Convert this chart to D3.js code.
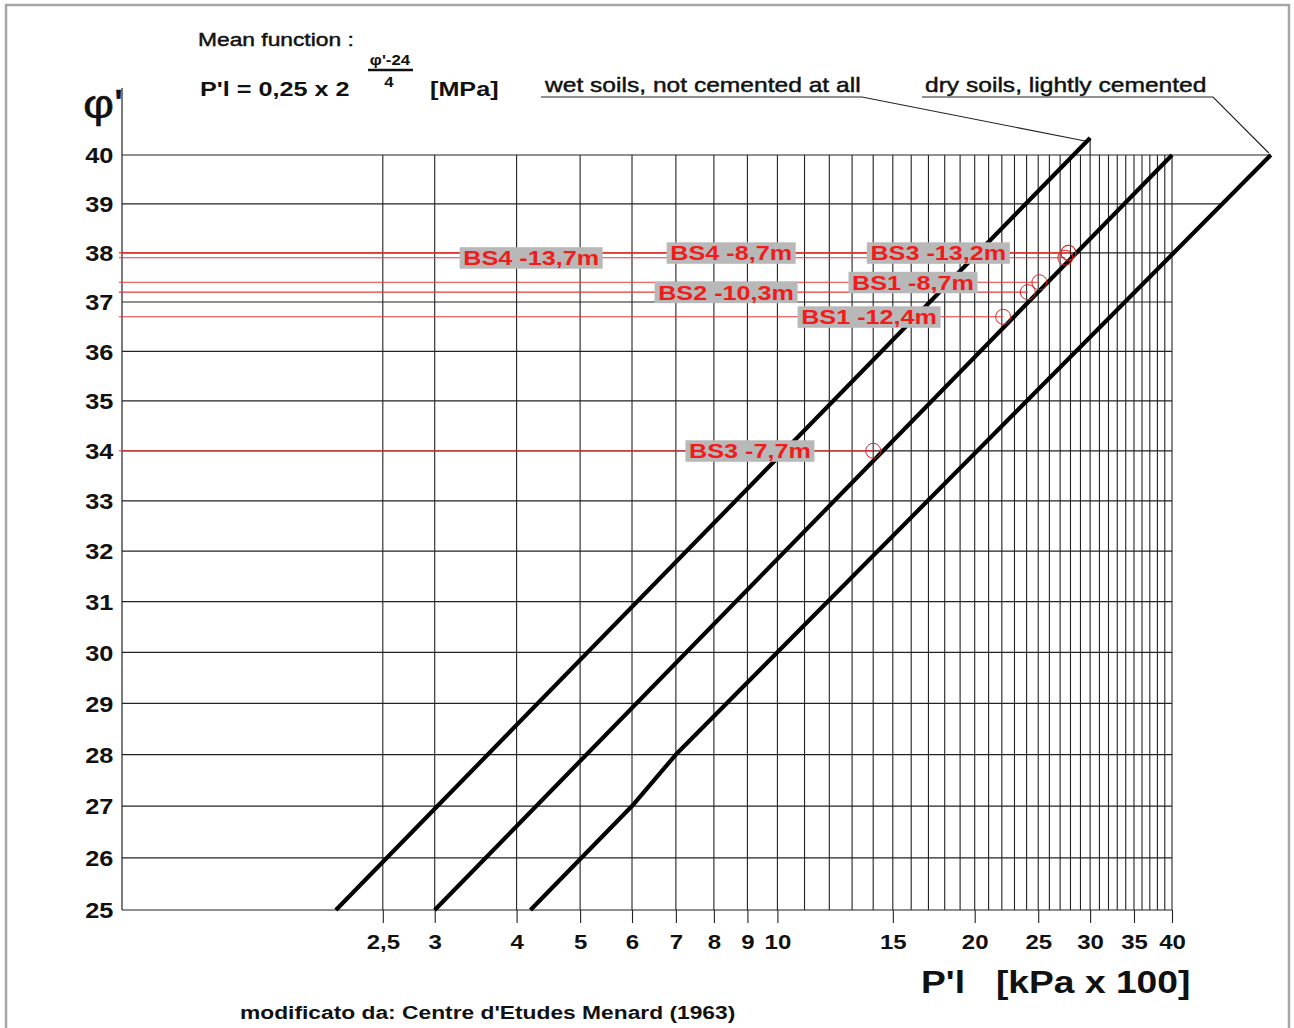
<!DOCTYPE html>
<html>
<head>
<meta charset="utf-8">
<script src="https://cdn.jsdelivr.net/npm/d3@7"></script>
<style>
body { margin: 0; background: #fff; }
svg text { font-family: "Liberation Sans", Arial, sans-serif; }
</style>
</head>
<body>
<div id="chart"></div>
<script>
// Menard chart: friction angle vs limit pressure (log scale)

// Axis values
var yTicks = [25, 26, 27, 28, 29, 30, 31, 32, 33, 34, 35, 36, 37, 38, 39, 40];
var xTickValues = [2.5, 3, 4, 5, 6, 7, 8, 9, 10, 15, 20, 25, 30, 35, 40];
var xTickText = ["2,5", "3", "4", "5", "6", "7", "8", "9", "10", "15", "20", "25", "30", "35", "40"];
var xGridValues = [2.5, 3, 4, 5, 6, 7, 8, 9, 10, 11, 12, 13, 14, 15, 16, 17, 18, 19, 20,
  21, 22, 23, 24, 25, 26, 27, 28, 29, 30, 31, 32, 33, 34, 35, 36, 37, 38, 39, 40];

// Reference lines (P'l in kPa x 100, phi' in degrees)
var wetP = [2.12, 30],
  wetPhi = [25, 40.35];
var meanP = [3.0, 40],
  meanPhi = [25, 40];
var dryP = [4.2, 6.0, 7.0, 56.6],
  dryPhi = [25, 27, 28, 40];

// Test results
var sampleNames = ["BS4 -13,7m", "BS4 -8,7m", "BS3 -13,2m", "BS1 -8,7m", "BS2 -10,3m", "BS1 -12,4m", "BS3 -7,7m"];
var samplePhi = [37.9, 38.0, 38.0, 37.4, 37.2, 36.7, 34.0];
var sampleP = [27.5, 27.8, 27.8, 25.1, 24.1, 22.1, 14.0];
var labelP = [4.21, 8.5, 17.6, 16.1, 8.35, 13.8, 9.08];

var width = 1294,
  height = 1028,
  SX = 1.2; // horizontal stretch of lettering

var x = d3.scaleLog().domain([1, 40]).range([122, 1172]);
var y = d3.scalePow().exponent(0.85).domain([25, 40]).range([910, 155]);

var svg = d3.select("#chart")
  .append("svg")
  .attr("width", width)
  .attr("height", height);

svg.append("rect")
  .attr("x", 6).attr("y", 5)
  .attr("width", 1283).attr("height", 1030)
  .attr("fill", "#fff")
  .attr("stroke", "#a6a6a6")
  .attr("stroke-width", 2.5);

function label(g, px, py, str, size, weight, anchor) {
  var t = g.append("text")
    .attr("transform", "translate(" + px + "," + py + ") scale(" + SX + ",1)")
    .attr("font-size", size)
    .attr("font-weight", weight || "normal")
    .attr("text-anchor", anchor || "start")
    .attr("fill", "#111")
    .style("white-space", "pre")
    .text(str);
  // regular lettering in the original is a bit heavier
  if (!weight || weight === "normal") t.attr("stroke", "#111").attr("stroke-width", 0.45);
  return t;
}

// x pixel where a polyline crosses a given phi
function xOnLine(P, Phi, phi) {
  for (var i = 0; i < P.length - 1; i++) {
    if (phi >= Phi[i] && phi <= Phi[i + 1]) {
      var t = (y(phi) - y(Phi[i])) / (y(Phi[i + 1]) - y(Phi[i]));
      return x(P[i]) + t * (x(P[i + 1]) - x(P[i]));
    }
  }
  return -Infinity;
}

// Grid
var grid = svg.append("g");
var wetTopP = wetP[wetP.length - 1], wetTopPhi = wetPhi[wetPhi.length - 1];

grid.selectAll(".vgrid")
  .data(xGridValues)
  .enter().append("line")
  .attr("x1", function(d) { return x(d); })
  .attr("x2", function(d) { return x(d); })
  .attr("y1", function(d) { return d === wetTopP ? y(wetTopPhi) : y(40); })
  .attr("y2", y(25))
  .attr("stroke", "#222")
  .attr("stroke-width", 1.1);

grid.selectAll(".hgrid")
  .data(yTicks)
  .enter().append("line")
  .attr("x1", x(1))
  .attr("x2", function(d) { return Math.max(x(40), xOnLine(dryP, dryPhi, d)); })
  .attr("y1", function(d) { return y(d); })
  .attr("y2", function(d) { return y(d); })
  .attr("stroke", "#222")
  .attr("stroke-width", 1.2);

// vertical axis line
svg.append("line")
  .attr("x1", x(1)).attr("x2", x(1))
  .attr("y1", y(25)).attr("y2", 88)
  .attr("stroke", "#222")
  .attr("stroke-width", 1.2);

// x axis
var xAxis = d3.axisBottom(x)
  .tickValues(xTickValues)
  .tickFormat(function(d, i) { return xTickText[i]; })
  .tickSize(13)
  .tickPadding(12);

var gx = svg.append("g")
  .attr("transform", "translate(0," + y(25) + ")")
  .call(xAxis);
gx.select(".domain").remove();
gx.selectAll(".tick line").attr("stroke", "#222").attr("stroke-width", 1.1);
gx.selectAll(".tick text")
  .attr("font-size", 20)
  .attr("font-weight", "bold")
  .attr("fill", "#111")
  .attr("transform", "scale(" + SX + ",1)");

// y axis
var yAxis = d3.axisLeft(y)
  .tickValues(yTicks)
  .tickSize(0)
  .tickPadding(9);

var gy = svg.append("g")
  .attr("transform", "translate(" + x(1) + ",0)")
  .call(yAxis);
gy.select(".domain").remove();
gy.selectAll(".tick text")
  .attr("x", -9 / SX)
  .attr("dy", "0.36em")
  .attr("font-size", 22)
  .attr("font-weight", "bold")
  .attr("fill", "#111")
  .attr("transform", "scale(" + (SX - 0.05) + ",1)");

// Red reading lines
var samples = sampleNames.map(function(n, i) {
  return { name: n, phi: samplePhi[i], p: sampleP[i], lp: labelP[i] };
});

svg.append("g").selectAll("line")
  .data(samples)
  .enter().append("line")
  .attr("x1", x(1) - 3)
  .attr("x2", function(d) { return x(d.p); })
  .attr("y1", function(d) { return y(d.phi); })
  .attr("y2", function(d) { return y(d.phi); })
  .attr("stroke", "#e23a3a")
  .attr("stroke-width", 1.1);

// Reference lines
var line = d3.line()
  .x(function(d) { return x(d[0]); })
  .y(function(d) { return y(d[1]); });

[[wetP, wetPhi], [meanP, meanPhi], [dryP, dryPhi]].forEach(function(l) {
  var pts = l[0].map(function(p, i) { return [p, l[1][i]]; });
  svg.append("path")
    .attr("d", line(pts))
    .attr("fill", "none")
    .attr("stroke", "#000")
    .attr("stroke-width", 4.2)
    .attr("stroke-linejoin", "round");
});

// markers
var marks = svg.append("g").selectAll("g")
  .data(samples)
  .enter().append("g")
  .attr("transform", function(d) { return "translate(" + x(d.p) + "," + y(d.phi) + ")"; });
marks.append("circle")
  .attr("r", 7.5)
  .attr("fill", "none")
  .attr("stroke", "#e02020")
  .attr("stroke-width", 1);

// label boxes
var labs = svg.append("g").selectAll("g")
  .data(samples)
  .enter().append("g")
  .attr("transform", function(d) { return "translate(" + x(d.lp) + "," + y(d.phi) + ") scale(" + SX + ",1)"; });
labs.append("text")
  .attr("y", 7.5)
  .attr("text-anchor", "middle")
  .attr("font-size", 21)
  .attr("font-weight", "bold")
  .attr("fill", "#f01c1c")
  .text(function(d) { return d.name; });
labs.each(function() {
  var g = d3.select(this);
  var bb = g.select("text").node().getBBox();
  g.insert("rect", "text")
    .attr("x", bb.x - 3)
    .attr("width", bb.width + 6)
    .attr("y", -10.5)
    .attr("height", 21.5)
    .attr("fill", "#b8b8b8");
});

// Titles and notes
label(svg, 198, 46, "Mean function :", 19, "normal");
label(svg, 200, 96, "P'l = 0,25 x 2", 21, "bold");
label(svg, 390, 65, "\u03c6'-24", 14, "bold", "middle");
svg.append("line")
  .attr("x1", 368).attr("x2", 413)
  .attr("y1", 70).attr("y2", 70)
  .attr("stroke", "#111").attr("stroke-width", 2.5);
label(svg, 389, 87, "4", 14, "bold", "middle");
label(svg, 430, 96, "[MPa]", 21, "bold");
label(svg, 83, 118, "\u03c6'", 40, "normal");

label(svg, 545, 92, "wet soils, not cemented at all", 20.5, "normal");
label(svg, 925, 92, "dry soils, lightly cemented", 20.5, "normal");

var notes = svg.append("g")
  .attr("fill", "none")
  .attr("stroke", "#222")
  .attr("stroke-width", 1.1);
notes.append("path")
  .attr("d", "M541,97H862L" + (x(wetTopP) - 5) + "," + (y(wetTopPhi) + 3));
notes.append("path")
  .attr("d", "M922,97H1213L" + (x(dryP[dryP.length - 1]) - 2) + "," + (y(40) - 2));

label(svg, 921, 993, "P'l   [kPa x 100]", 31, "bold");
label(svg, 240, 1019, "modificato da: Centre d'Etudes Menard (1963)", 19, "bold");
</script>
</body>
</html>
